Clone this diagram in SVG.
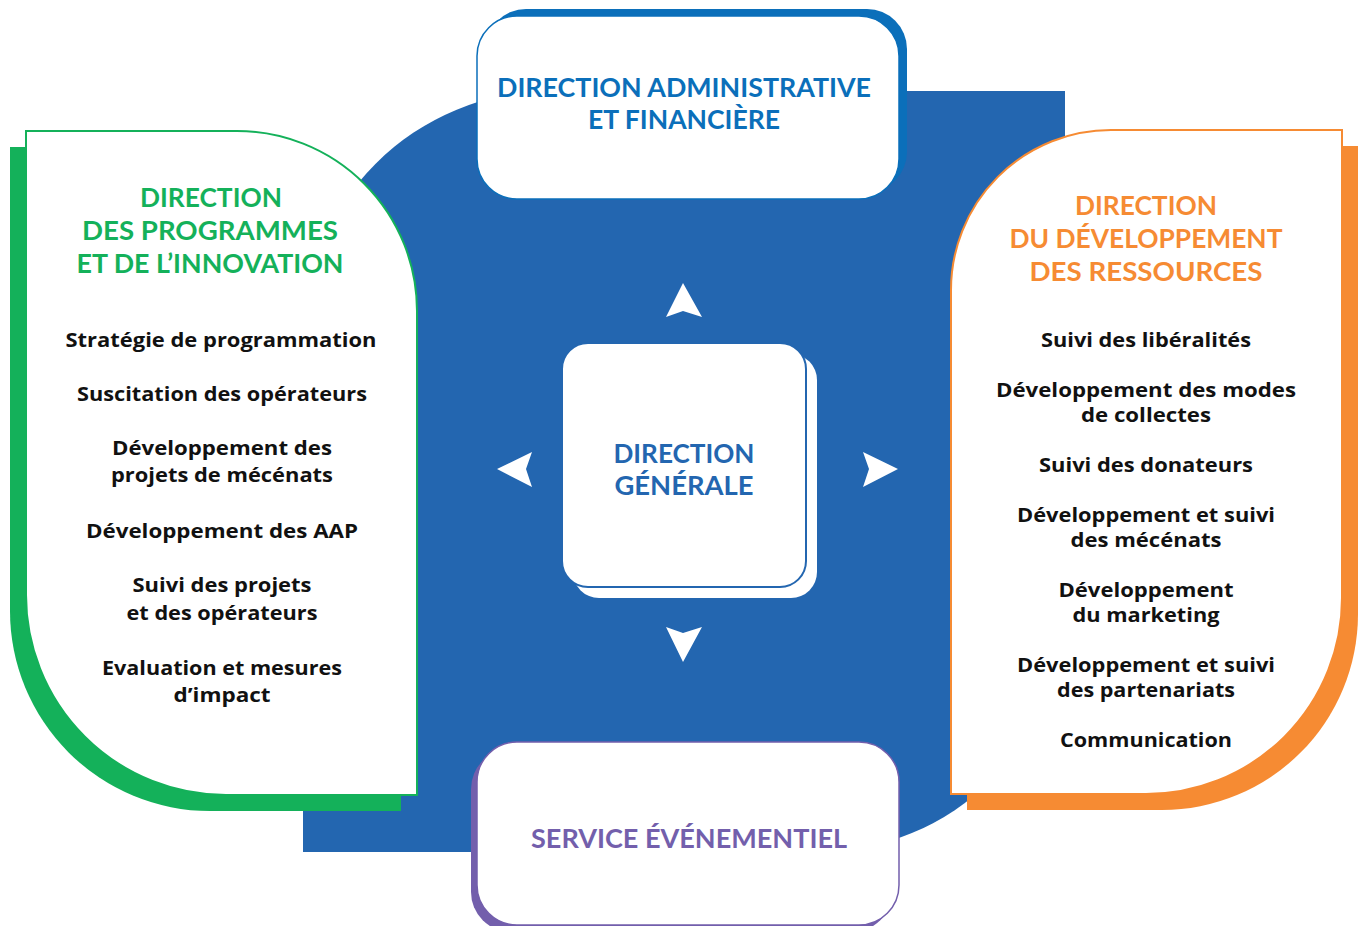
<svg xmlns="http://www.w3.org/2000/svg" width="1362" height="926" viewBox="0 0 1362 926">
<defs>
<style>
.t{font-family:"Open Sans","Noto Sans","Liberation Sans",sans-serif;font-weight:700;text-anchor:middle}
.item{font-size:20px;fill:#111111}
.title{font-family:Lato,"Open Sans","Liberation Sans",sans-serif;font-size:26px}
.g{fill:#14b15a}
.o{fill:#f68b33}
.b{fill:#0b6fba}
.c{fill:#2366b0}
.p{fill:#735fac}
.arrow{fill:#ffffff}
</style>
</defs>
<rect width="1362" height="926" fill="#ffffff"/>
<path id="background" d="M303,339 A248,248 0 0 1 551,91 H1065 V604 A248,248 0 0 1 817,852 H303 Z" fill="#2366b0"/>

<g id="programmes">
<path d="M26,131 H237 A180,180 0 0 1 417,311 V795 H226 A200,200 0 0 1 26,595 Z" transform="translate(-16,16)" fill="#14b15a"/>
<path d="M26,131 H237 A180,180 0 0 1 417,311 V795 H226 A200,200 0 0 1 26,595 Z" fill="#ffffff" stroke="#14b15a" stroke-width="2"/>
<text class="t title g" x="211" y="207" textLength="142" lengthAdjust="spacingAndGlyphs">DIRECTION</text>
<text class="t title g" x="210" y="240" textLength="256" lengthAdjust="spacingAndGlyphs">DES PROGRAMMES</text>
<text class="t title g" x="210" y="273" textLength="267" lengthAdjust="spacingAndGlyphs">ET DE L’INNOVATION</text>
<text class="t item" x="221" y="347" textLength="311" lengthAdjust="spacingAndGlyphs">Stratégie de programmation</text>
<text class="t item" x="222" y="401" textLength="290" lengthAdjust="spacingAndGlyphs">Suscitation des opérateurs</text>
<text class="t item" x="222" y="455" textLength="220" lengthAdjust="spacingAndGlyphs">Développement des</text>
<text class="t item" x="222" y="482" textLength="222" lengthAdjust="spacingAndGlyphs">projets de mécénats</text>
<text class="t item" x="222" y="538" textLength="272" lengthAdjust="spacingAndGlyphs">Développement des AAP</text>
<text class="t item" x="222" y="592" textLength="179" lengthAdjust="spacingAndGlyphs">Suivi des projets</text>
<text class="t item" x="222" y="620" textLength="191" lengthAdjust="spacingAndGlyphs">et des opérateurs</text>
<text class="t item" x="222" y="675" textLength="240" lengthAdjust="spacingAndGlyphs">Evaluation et mesures</text>
<text class="t item" x="222" y="702" textLength="97" lengthAdjust="spacingAndGlyphs">d’impact</text>
</g>

<g id="ressources">
<path d="M1111,130 H1342 V598 A196,196 0 0 1 1146,794 H951 V290 A160,160 0 0 1 1111,130 Z" transform="translate(16,16)" fill="#f68b33"/>
<path d="M1111,130 H1342 V598 A196,196 0 0 1 1146,794 H951 V290 A160,160 0 0 1 1111,130 Z" fill="#ffffff" stroke="#f68b33" stroke-width="2"/>
<text class="t title o" x="1146" y="215" textLength="142" lengthAdjust="spacingAndGlyphs">DIRECTION</text>
<text class="t title o" x="1146" y="248" textLength="273" lengthAdjust="spacingAndGlyphs">DU DÉVELOPPEMENT</text>
<text class="t title o" x="1146" y="281" textLength="233" lengthAdjust="spacingAndGlyphs">DES RESSOURCES</text>
<text class="t item" x="1146" y="347" textLength="210" lengthAdjust="spacingAndGlyphs">Suivi des libéralités</text>
<text class="t item" x="1146" y="397" textLength="300" lengthAdjust="spacingAndGlyphs">Développement des modes</text>
<text class="t item" x="1146" y="422" textLength="130" lengthAdjust="spacingAndGlyphs">de collectes</text>
<text class="t item" x="1146" y="472" textLength="214" lengthAdjust="spacingAndGlyphs">Suivi des donateurs</text>
<text class="t item" x="1146" y="522" textLength="258" lengthAdjust="spacingAndGlyphs">Développement et suivi</text>
<text class="t item" x="1146" y="547" textLength="151" lengthAdjust="spacingAndGlyphs">des mécénats</text>
<text class="t item" x="1146" y="597" textLength="175" lengthAdjust="spacingAndGlyphs">Développement</text>
<text class="t item" x="1146" y="622" textLength="147" lengthAdjust="spacingAndGlyphs">du marketing</text>
<text class="t item" x="1146" y="672" textLength="258" lengthAdjust="spacingAndGlyphs">Développement et suivi</text>
<text class="t item" x="1146" y="697" textLength="178" lengthAdjust="spacingAndGlyphs">des partenariats</text>
<text class="t item" x="1146" y="747" textLength="172" lengthAdjust="spacingAndGlyphs">Communication</text>
</g>

<g id="administrative">
<rect x="486" y="9" width="421" height="183" rx="40" fill="#0b6fba"/>
<rect x="477" y="16" width="422" height="183" rx="40" fill="#ffffff" stroke="#0b6fba" stroke-width="1.5"/>
<text class="t title b" x="684" y="97" textLength="374" lengthAdjust="spacingAndGlyphs">DIRECTION ADMINISTRATIVE</text>
<text class="t title b" x="684" y="129" textLength="192" lengthAdjust="spacingAndGlyphs">ET FINANCIÈRE</text>
</g>

<g id="evenementiel">
<rect x="471" y="749" width="421" height="183" rx="40" fill="#735fac"/>
<rect x="477" y="742" width="422" height="183" rx="40" fill="#ffffff" stroke="#735fac" stroke-width="1.5"/>
<text class="t title p" x="689" y="848" textLength="316" lengthAdjust="spacingAndGlyphs">SERVICE ÉVÉNEMENTIEL</text>
</g>

<g id="generale">
<rect x="573" y="354" width="244" height="244" rx="26" fill="#ffffff"/>
<rect x="562" y="343" width="244" height="244" rx="26" fill="#ffffff" stroke="#2366b0" stroke-width="2"/>
<text class="t title c" x="684" y="463" textLength="141" lengthAdjust="spacingAndGlyphs">DIRECTION</text>
<text class="t title c" x="684" y="495" textLength="139" lengthAdjust="spacingAndGlyphs">GÉNÉRALE</text>
</g>

<g id="connectors">
<polygon class="arrow" points="683,283 702,317 683,311 666,317"/>
<polygon class="arrow" points="683,662 702,627 683,633 666,627"/>
<polygon class="arrow" points="497,469 532,452 526,469 532,487"/>
<polygon class="arrow" points="898,469 863,452 869,469 863,487"/>
</g>
</svg>
